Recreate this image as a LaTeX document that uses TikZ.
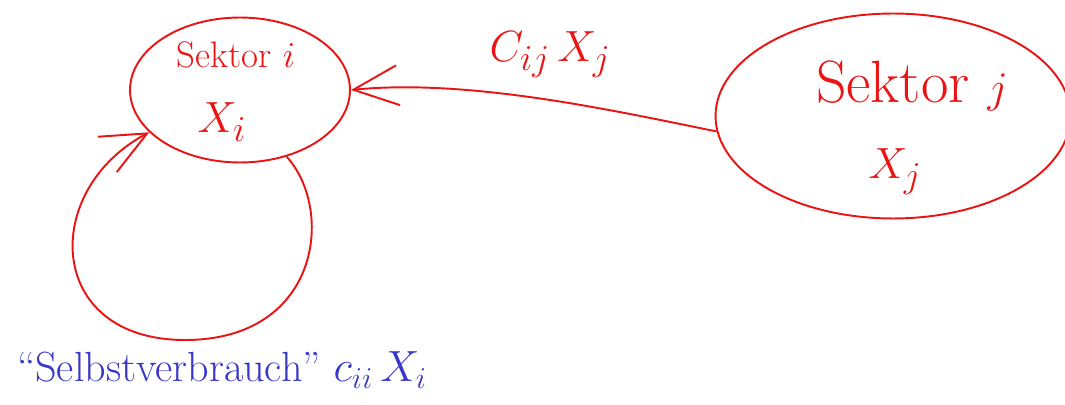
\documentclass[tikz,border=0pt]{standalone}
\usetikzlibrary{arrows.meta,shapes.geometric}
\definecolor{inkred}{RGB}{235,20,20}
\definecolor{inkblue}{RGB}{55,55,200}
\tikzset{
  sektor/.style={draw=inkred, line width=1.1pt, ellipse, inner sep=0pt},
  flow/.style={draw=inkred, line width=1.1pt, -{Straight Barb[length=9mm,width=8mm,line width=1.1pt]}},
  inkr/.style={text=inkred, inner sep=0pt},
  inkb/.style={text=inkblue, inner sep=0pt}
}
\begin{document}
\begin{tikzpicture}[x=0.02cm, y=-0.02cm]
  \useasboundingbox (0,0) rectangle (1065,405);
  % the two sectors
  \node[sektor, minimum width=4.4cm, minimum height=2.9cm] (si) at (240,90) {};
  \node[sektor, minimum width=7.1cm, minimum height=4.1cm] (sj) at (893,116) {};
  \node[inkr] (sitxt) at (236,55) {\fontsize{21}{24}\selectfont Sektor $i$};
  \node[inkr] (sival) at (222,122) {\fontsize{28}{30}\selectfont $X_i$};
  \node[inkr] (sjtxt) at (912,86) {\fontsize{34}{38}\selectfont Sektor $j$};
  \node[inkr] (sjval) at (895,172) {\fontsize{32}{34}\selectfont $X_j$};
  % delivery j -> i
  \draw[flow] (sj.185) .. controls (620,112) and (470,78) .. (si.east);
  \node[inkr] (cij) at (550,55) {\fontsize{28}{30}\selectfont $C_{ij}\,X_j$};
  % own consumption
  \draw[flow] (si.305) .. controls (335,210) and (320,340) .. (185,340)
    .. controls (45,340) and (40,190) .. (si.205);
  \node[inkb] (own) at (222,370) {\fontsize{24}{28}\selectfont ``Selbstverbrauch'' $c_{ii}\,X_i$};
\end{tikzpicture}
\end{document}
